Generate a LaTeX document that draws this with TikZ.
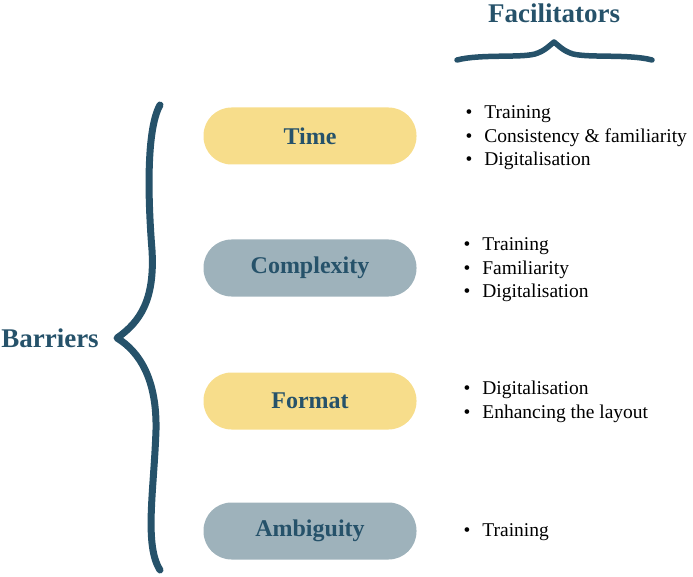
\documentclass[tikz,border=0pt]{standalone}
\usepackage{fontspec}
\setmainfont{Liberation Serif}
\definecolor{darkteal}{HTML}{26526A}
\definecolor{pillyellow}{HTML}{F7DD8B}
\definecolor{pillgrey}{HTML}{9EB2BB}
\tikzset{
  pill/.style={rectangle,rounded corners=28pt,minimum width=213pt,minimum height=57pt,
    text=darkteal,font=\fontsize{24}{28}\selectfont\bfseries},
  heading/.style={text=darkteal,font=\fontsize{27}{31}\selectfont\bfseries},
  facilist/.style={anchor=west,align=left,font=\fontsize{19.5}{23.5}\selectfont},
  bracestroke/.style={draw=darkteal,line cap=round,line join=round},
}
\newcommand{\itm}[1]{\textbullet\hspace{12pt}#1}
\begin{document}
\begin{tikzpicture}[x=1pt,y=-1pt]
\useasboundingbox (0,0) rectangle (693,577);
% headings
\node[heading] (barriers) at (50,338) {Barriers};
\node[heading] (facil) at (554,13) {Facilitators};
% braces
\draw[bracestroke,line width=7pt] (160,105) .. controls (146,130) and (148,200) .. (152,250)
  .. controls (155,300) and (140,322) .. (117,338)
  .. controls (140,352) and (157,380) .. (156,430)
  .. controls (154,490) and (144,545) .. (160,570);
\draw[bracestroke,line width=5.5pt] (457,60) .. controls (480,54) and (520,58) .. (535,54)
  .. controls (545,51) and (550,45) .. (554,42)
  .. controls (558,45) and (563,51) .. (573,54)
  .. controls (590,58) and (630,54) .. (652,60);
% barriers
\node[pill,fill=pillyellow] (time) at (310,136) {Time};
\node[pill,fill=pillgrey] (complexity) at (310,268) {Complexity};
\node[pill,fill=pillyellow] (format) at (310,401) {Format};
\node[pill,fill=pillgrey] (ambiguity) at (310,531) {Ambiguity};
% facilitators
\node[facilist] (timelist) at (462,138) {\itm{Training}\\ \itm{Consistency \& familiarity}\\ \itm{Digitalisation}};
\node[facilist] (complist) at (460,270) {\itm{Training}\\ \itm{Familiarity}\\ \itm{Digitalisation}};
\node[facilist] (formlist) at (460,402) {\itm{Digitalisation}\\ \itm{Enhancing the layout}};
\node[facilist] (ambilist) at (460,532) {\itm{Training}};
\end{tikzpicture}
\end{document}
